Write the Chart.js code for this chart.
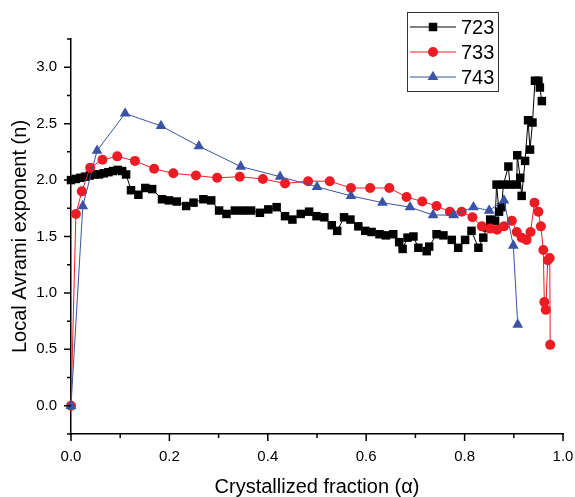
<!DOCTYPE html>
<html>
<head>
<meta charset="utf-8">
<script src="https://cdn.jsdelivr.net/npm/chart.js@4.4.1/dist/chart.umd.min.js"></script>
<style>
  html, body { margin: 0; padding: 0; background: #fff; }
  #wrap { width: 575px; height: 497px; }
</style>
</head>
<body>
<div id="wrap"><canvas id="chart" width="575" height="497"></canvas></div>
<script>
const FONT = "'Liberation Sans', Arial, Helvetica, sans-serif";

const seriesNames = ['723', '733', '743'];

const x723 = [0, 0.0095, 0.019, 0.0285, 0.038, 0.0475, 0.057, 0.0665, 0.076, 0.0855, 0.095, 0.104, 0.112,
  0.122, 0.137, 0.151, 0.165, 0.185, 0.199, 0.215, 0.234, 0.249, 0.269, 0.285, 0.301, 0.316, 0.333,
  0.350, 0.366, 0.384, 0.401, 0.418, 0.435, 0.450, 0.467, 0.484, 0.499, 0.515, 0.530, 0.541, 0.555,
  0.568, 0.584, 0.598, 0.611, 0.627, 0.640, 0.655, 0.667, 0.674, 0.684, 0.696, 0.706, 0.723, 0.728,
  0.743, 0.757, 0.774, 0.787, 0.801, 0.814, 0.828, 0.838, 0.845, 0.852, 0.862, 0.865, 0.870, 0.875,
  0.879, 0.889, 0.892, 0.906, 0.907, 0.913, 0.916, 0.923, 0.929, 0.933, 0.938, 0.943, 0.950, 0.953, 0.957];
const y723 = [2.00, 2.01, 2.02, 2.03, 2.04, 2.05, 2.05, 2.06, 2.07, 2.08, 2.09, 2.08, 2.05,
  1.91, 1.87, 1.93, 1.92, 1.83, 1.82, 1.81, 1.77, 1.80, 1.83, 1.82, 1.73, 1.70, 1.73,
  1.73, 1.73, 1.71, 1.74, 1.76, 1.68, 1.65, 1.70, 1.72, 1.68, 1.67, 1.60, 1.55, 1.67,
  1.65, 1.59, 1.55, 1.54, 1.52, 1.51, 1.52, 1.45, 1.39, 1.49, 1.50, 1.40, 1.37, 1.41,
  1.52, 1.51, 1.47, 1.40, 1.47, 1.55, 1.40, 1.49, 1.58, 1.65, 1.64, 1.96, 1.72, 1.76,
  1.96, 2.12, 1.96, 1.96, 2.22, 2.02, 1.86, 2.17, 2.53, 2.27, 2.51, 2.88, 2.88, 2.82, 2.70];

const x733 = [0, 0.010, 0.022, 0.039, 0.064, 0.094, 0.130, 0.169, 0.208, 0.254, 0.297, 0.343, 0.390,
  0.435, 0.482, 0.526, 0.569, 0.608, 0.647, 0.682, 0.714, 0.743, 0.770, 0.794, 0.816, 0.835, 0.852,
  0.866, 0.880, 0.896, 0.906, 0.916, 0.926, 0.934, 0.942, 0.950, 0.955, 0.960, 0.962, 0.965, 0.969,
  0.973, 0.974];
const y733 = [0, 1.70, 1.90, 2.11, 2.18, 2.21, 2.17, 2.10, 2.06, 2.04, 2.02, 2.03, 2.01,
  1.97, 1.99, 1.99, 1.93, 1.93, 1.93, 1.85, 1.81, 1.77, 1.72, 1.72, 1.67, 1.59, 1.57,
  1.56, 1.59, 1.64, 1.54, 1.49, 1.47, 1.54, 1.80, 1.72, 1.59, 1.38, 0.92, 0.85, 1.29,
  1.31, 0.54];

const x743 = [0, 0.024, 0.053, 0.110, 0.183, 0.260, 0.345, 0.425, 0.500, 0.569, 0.633, 0.689, 0.736,
  0.778, 0.818, 0.850, 0.880, 0.899, 0.908];
const y743 = [0, 1.77, 2.26, 2.59, 2.48, 2.30, 2.12, 2.03, 1.94, 1.86, 1.80, 1.76, 1.69,
  1.69, 1.76, 1.73, 1.82, 1.42, 0.72];

const xMajor = [0, 0.2, 0.4, 0.6, 0.8, 1.0];
const xMinor = [0.1, 0.3, 0.5, 0.7, 0.9];
const yMajor = [0, 0.5, 1.0, 1.5, 2.0, 2.5, 3.0];
const yMinor = [-0.25, 0.25, 0.75, 1.25, 1.75, 2.25, 2.75, 3.25];

const colors = ['#000000', '#ED1C24', '#3A53A4'];
const styles = ['rect', 'circle', 'triangle'];
const radii = [6, 5, 6.2];

function pts(xs, ys) { return xs.map((x, i) => ({ x: x, y: ys[i] })); }

const datasets = [[x723, y723], [x733, y733], [x743, y743]].map((d, i) => ({
  label: seriesNames[i],
  data: pts(d[0], d[1]),
  showLine: true,
  borderColor: colors[i],
  backgroundColor: colors[i],
  borderWidth: 1,
  pointStyle: styles[i],
  pointRadius: radii[i],
  pointBorderWidth: 0,
  pointHoverRadius: radii[i],
  clip: false,
  order: 3 - i
}));

// outward tick marks, major and minor
const tickMarks = {
  id: 'tickMarks',
  afterDraw(chart) {
    const c = chart.ctx, xs = chart.scales.x, ys = chart.scales.y;
    c.save();
    c.strokeStyle = '#000';
    c.lineWidth = 1.5;
    c.beginPath();
    xMajor.forEach(v => { const p = xs.getPixelForValue(v); c.moveTo(p, xs.top); c.lineTo(p, xs.top + 7); });
    xMinor.forEach(v => { const p = xs.getPixelForValue(v); c.moveTo(p, xs.top); c.lineTo(p, xs.top + 4); });
    yMajor.forEach(v => { const p = ys.getPixelForValue(v); c.moveTo(ys.right, p); c.lineTo(ys.right - 7, p); });
    yMinor.forEach(v => { const p = ys.getPixelForValue(v); c.moveTo(ys.right, p); c.lineTo(ys.right - 4, p); });
    c.stroke();
    c.restore();
  }
};

// boxed legend in the upper right
const boxLegend = {
  id: 'boxLegend',
  afterDraw(chart) {
    const c = chart.ctx;
    const bx = 407, by = 12, bw = 91, bh = 79;
    c.save();
    c.fillStyle = '#fff';
    c.fillRect(bx, by, bw, bh);
    c.strokeStyle = '#333';
    c.lineWidth = 1;
    c.strokeRect(bx + 0.5, by + 0.5, bw, bh);
    chart.data.datasets.forEach((ds, i) => {
      const yy = 27 + i * 25;
      c.strokeStyle = ds.borderColor;
      c.lineWidth = 1;
      c.beginPath();
      c.moveTo(410, yy);
      c.lineTo(456, yy);
      c.stroke();
      c.fillStyle = ds.backgroundColor;
      Chart.helpers.drawPoint(c, { pointStyle: ds.pointStyle, radius: ds.pointRadius, borderWidth: 0, rotation: 0 }, 433, yy);
      c.fillStyle = '#000';
      c.font = '20px ' + FONT;
      c.textBaseline = 'middle';
      c.textAlign = 'left';
      c.fillText(ds.label, 461, yy + 1);
    });
    c.restore();
  }
};

new Chart(document.getElementById('chart').getContext('2d'), {
  type: 'scatter',
  data: { datasets: datasets },
  plugins: [tickMarks, boxLegend],
  options: {
    responsive: false,
    animation: false,
    layout: { padding: { top: 39, right: 0, bottom: 0, left: 0 } },
    plugins: { legend: { display: false }, tooltip: { enabled: false } },
    scales: {
      x: {
        type: 'linear',
        min: 0,
        max: 1,
        afterBuildTicks: s => { s.ticks = xMajor.map(v => ({ value: v })); },
        afterFit: s => { s.height = 63; s.paddingRight = 12; },
        grid: { display: false, drawTicks: false },
        border: { display: true, color: '#000', width: 1.5 },
        ticks: {
          padding: 14,
          color: '#000',
          font: { family: FONT, size: 15 },
          maxRotation: 0,
          callback: v => v.toFixed(1)
        },
        title: {
          display: true,
          text: 'Crystallized fraction (\u03B1)',
          color: '#000',
          font: { family: FONT, size: 20, lineHeight: 1 },
          padding: { top: 0, bottom: 0 }
        }
      },
      y: {
        type: 'linear',
        min: -0.25,
        max: 3.25,
        afterBuildTicks: s => { s.ticks = yMajor.map(v => ({ value: v })); },
        afterFit: s => { s.width = 71; },
        grid: { display: false, drawTicks: false },
        border: { display: true, color: '#000', width: 1.5 },
        ticks: {
          padding: 14,
          color: '#000',
          font: { family: FONT, size: 15 },
          callback: v => v.toFixed(1)
        },
        title: {
          display: true,
          text: 'Local Avrami exponent (n)',
          color: '#000',
          font: { family: FONT, size: 20, lineHeight: 1 },
          padding: { top: 10, bottom: 10 }
        }
      }
    }
  }
});
</script>
</body>
</html>
